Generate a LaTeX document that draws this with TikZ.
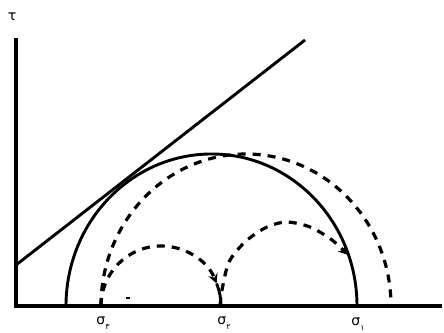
\documentclass[tikz,border=0pt]{standalone}
\usepackage{fontspec}
\newfontfamily\arabicfont[Script=Arabic]{DejaVu Sans}
\usetikzlibrary{calc}
\usetikzlibrary{positioning}

\begin{document}
\begin{tikzpicture} [
                x=1pt, y=1pt,
                axisline/.style = {line width=3.4pt},
                mohr/.style = {line width=2.9pt},
                dsh/.style = {line width=3.2pt, dash pattern=on 8pt off 7pt},
                sigmalabel/.style = {inner sep=0pt, font=\fontsize{14}{16}\selectfont\arabicfont},
                digit/.style = {font=\fontsize{8}{9}\selectfont\arabicfont}
            ]
            \useasboundingbox (0,0) rectangle (444,332);
            \coordinate (o) at (16,26);
            \coordinate (ytop) at (16,294);
            \coordinate (xend) at (442,26);
            \coordinate (s3) at (101,26);
            \coordinate (s2) at (220,26);
            \coordinate (s1) at (357,26);
            \coordinate (tl) at (16,67);
            \coordinate (tr) at (305,292);
            \draw [axisline] (ytop) -- (o) -- (xend);
            \node (tau) at (12,315) [sigmalabel] {τ};
            % Mohr circle and tangent
            \draw [mohr] (66,26) arc[start angle=180, end angle=0, x radius=145.5, y radius=152];
            \draw [mohr] (tl) -- (tr);
            % shifted circle
            \draw [dsh] (s3) arc[start angle=180, end angle=0, x radius=145, y radius=152];
            % small circle
            \draw [dsh, -stealth] (s3) arc[start angle=180, end angle=22, radius=60] coordinate (m1);
            \draw [mohr] (m1) arc[start angle=22, end angle=0, radius=60];
            % medium arc
            \draw [dsh, -stealth] plot[smooth] coordinates {(s2) (222,42) (229,70) (245,90) (265,104) (286,110) (310,105) (332,92) (348,77)};
            \draw [line width=1.5pt] (126,34) -- (130,34);
            \node (l3) at (103,9) [sigmalabel] {σ\raisebox{-0.4ex}{\tikz[baseline]\node[digit,inner sep=0pt] {۳};}};
            \node (l2) at (224,9) [sigmalabel] {σ\raisebox{-0.4ex}{\tikz[baseline]\node[digit,inner sep=0pt] {۲};}};
            \node (l1) at (358,8) [sigmalabel] {σ\raisebox{-0.4ex}{\tikz[baseline]\node[digit,inner sep=0pt] {۱};}};
        \end{tikzpicture}
\end{document}
